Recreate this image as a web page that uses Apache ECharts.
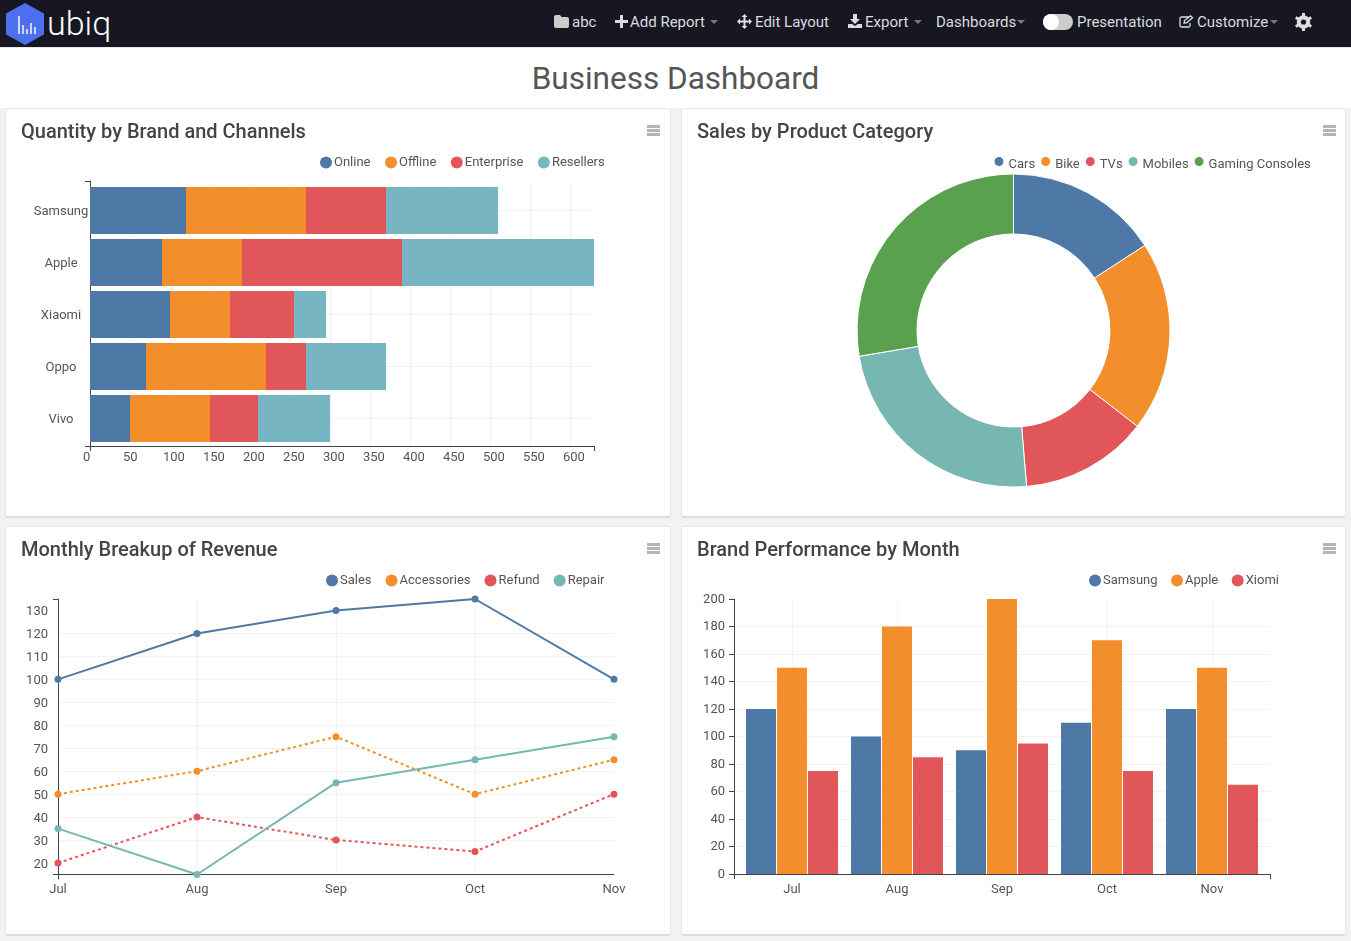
<!DOCTYPE html>
<html>
<head>
  <meta charset="UTF-8">
  <title>Business Dashboard</title>
  <script src="https://cdnjs.cloudflare.com/ajax/libs/echarts/6.0.0/echarts.min.js"></script>
  <style>
    html, body { margin: 0; padding: 0; width: 1351px; height: 941px; overflow: hidden; background: #f1f2f4; font-family: Roboto, sans-serif; }
    #nav { position: absolute; left: 0; top: 0; width: 1351px; height: 47px; background: #161722; color: #dcdcdc; font-size: 15px; }
    #nav span, #nav svg { position: absolute; }
    #nav span { top: 13px; line-height: 18px; white-space: nowrap; }
    #nav .logo { left: 47px; top: 2px; font-size: 34px; line-height: 42px; font-weight: 300; color: #fff; }
    .caret { width: 0; height: 0; top: 20px !important; border-left: 4px solid transparent; border-right: 4px solid transparent; border-top: 4px solid #777; }
    #toggle { left: 1043px; top: 14px !important; width: 30px; height: 16px; background: #ccc; border-radius: 8px; }
    #toggle i { position: absolute; left: 0; top: 0; width: 16px; height: 16px; border-radius: 8px; background: #fff; }
    #band { position: absolute; left: 0; top: 47px; width: 1351px; height: 61px; background: #fff; text-align: center; font-size: 31.5px; line-height: 61px; color: #555; border-top: 1px solid #e8e8e8; box-sizing: border-box; }
    .card { position: absolute; width: 666px; height: 410px; background: #fff; border: 1px solid #e6e6e6; border-bottom: 2px solid #ddd; border-radius: 3px; box-sizing: border-box; }
    .card.right { width: 665px; }
    .chart { position: absolute; left: 0; top: 0; width: 663px; height: 407px; }
    .menu { position: absolute; left: 641px; top: 16px; width: 13px; height: 2.5px; background: #b5b5b5; box-shadow: 0 4px 0 #b5b5b5, 0 8px 0 #b5b5b5; z-index: 2; }
  </style>
</head>
<body>
  <div id="nav">
    <svg style="left:6px;top:3px" width="38" height="42" viewBox="0 0 38 42"><path d="M19 1 L37 11 V31 L19 41 L1 31 V11 Z" fill="#4d6ff0" stroke="#4d6ff0" stroke-width="2" stroke-linejoin="round"/><path d="M13 13v18M17 22v9M21 26v5M25 20v11M29 24v7" stroke="#fff" stroke-width="1.6" opacity=".9"/></svg>
    <span class="logo">ubiq</span>
    <svg style="left:554px;top:15px" width="15" height="13" viewBox="0 0 15 13"><path d="M0 2 Q0 0 2 0 H6 L7.5 2 H13 Q15 2 15 4 V11 Q15 13 13 13 H2 Q0 13 0 11 Z" fill="#ccc"/></svg>
    <span style="left:572px">abc</span>
    <svg style="left:615px;top:15px" width="13" height="13" viewBox="0 0 13 13"><path d="M5 0h3v5h5v3H8v5H5V8H0V5h5z" fill="#ddd"/></svg>
    <span style="left:630px">Add Report</span>
    <span class="caret" style="left:710px"></span>
    <svg style="left:737px;top:14px" width="15" height="15" viewBox="0 0 15 15"><path d="M7.5 0 L10.5 3 H8.5 V6.5 H12 V4.5 L15 7.5 L12 10.5 V8.5 H8.5 V12 H10.5 L7.5 15 L4.5 12 H6.5 V8.5 H3 V10.5 L0 7.5 L3 4.5 V6.5 H6.5 V3 H4.5 Z" fill="#ddd"/></svg>
    <span style="left:755px">Edit Layout</span>
    <svg style="left:848px;top:14px" width="14" height="14" viewBox="0 0 14 14"><path d="M5 0h4v5h3L7 10 2 5h3zM0 10h4l3 2 3-2h4v4H0z" fill="#ddd"/></svg>
    <span style="left:865px">Export</span>
    <span class="caret" style="left:914px"></span>
    <span style="left:936px">Dashboards</span>
    <span class="caret" style="left:1017px"></span>
    <span id="toggle"><i></i></span>
    <span style="left:1077px">Presentation</span>
    <svg style="left:1179px;top:15px" width="15" height="13" viewBox="0 0 15 13"><path d="M10 2H2.5Q1 2 1 3.5v7Q1 12 2.5 12h7Q11 12 11 10.5V8M5 8l.5-2.5L11.5.8l2 2-5.800 5z" fill="none" stroke="#ddd" stroke-width="1.300"/></svg>
    <span style="left:1197px">Customize</span>
    <span class="caret" style="left:1270px"></span>
    <svg style="left:1295px;top:13px" width="17" height="18" viewBox="0 0 17 18"><circle cx="8.500" cy="9" r="5" fill="none" stroke="#ddd" stroke-width="3.600"/><path d="M8.500 0v18M0.700 4.500l15.600 9M0.700 13.500l15.600-9" stroke="#ddd" stroke-width="3"/><circle cx="8.500" cy="9" r="2.600" fill="#161722"/></svg>
  </div>
  <div id="band">Business Dashboard</div>

  <div class="card" style="left:5px;top:108px"><div class="menu"></div><div class="chart" id="brand-channels"></div></div>
  <div class="card right" style="left:681px;top:108px"><div class="menu"></div><div class="chart" id="product-category"></div></div>
  <div class="card" style="left:5px;top:526px"><div class="menu"></div><div class="chart" id="monthly-revenue"></div></div>
  <div class="card right" style="left:681px;top:526px"><div class="menu"></div><div class="chart" id="brand-month"></div></div>

  <script>
  const BLUE = '#4e79a7', ORANGE = '#f28e2b', RED = '#e15759', TEAL = '#76b7b2', CYAN = '#76b5c1', GREEN = '#59a14f';
  const TEXT = '#555', AXIS = '#444', GRID = '#f2f2f2';

  const brands = ['Samsung', 'Apple', 'Xiaomi', 'Oppo', 'Vivo'];
  const online = [120, 90, 100, 70, 50];
  const offline = [150, 100, 75, 150, 100];
  const enterprise = [100, 200, 80, 50, 60];
  const resellers = [140, 240, 40, 100, 90];
  const quantityTicks = [0, 50, 100, 150, 200, 250, 300, 350, 400, 450, 500, 550, 600];

  const productNames = ['Cars', 'Bike', 'TVs', 'Mobiles', 'Gaming Consoles'];
  const productValues = [101, 125, 84, 151, 176];

  const months = ['Jul', 'Aug', 'Sep', 'Oct', 'Nov'];
  const sales = [100, 120, 130, 135, 100];
  const accessories = [50, 60, 75, 50, 65];
  const refund = [20, 40, 30, 25, 50];
  const repair = [35, 15, 55, 65, 75];
  const revenueTicks = [20, 30, 40, 50, 60, 70, 80, 90, 100, 110, 120, 130];

  const samsung = [120, 100, 90, 110, 120];
  const apple = [150, 180, 200, 170, 150];
  const xiomi = [75, 85, 95, 75, 65];

  function title(text) {
    return { text: text, left: 10, top: 9, textStyle: { fontFamily: 'Roboto', fontSize: 20, fontWeight: 500, color: '#444' } };
  }
  function legend(left, top, size, gap, pad) {
    return {
      left: left, top: top, icon: 'circle', itemWidth: size, itemHeight: size, itemGap: gap,
      textStyle: { fontFamily: 'Roboto', fontSize: 13, color: TEXT, padding: pad }
    };
  }
  const label = { fontFamily: 'Roboto', fontSize: 13, color: TEXT };
  const labelY = { ...label, verticalAlign: 'top', padding: [-5, 0, 0, 0] };
  const axisLine = { show: true, onZero: false, lineStyle: { color: AXIS, width: 1 } };
  const tick = (vals) => ({ show: true, length: 5, customValues: vals, lineStyle: { color: AXIS } });
  const split = { show: true, showMinLine: false, showMaxLine: false, lineStyle: { color: GRID, width: 1 } };
  // custom ticks also thin out an axis's split lines, so the grid lines get an axis of their own
  const gridOnly = { axisLine: { show: false }, axisTick: { show: false }, axisLabel: { show: false }, splitLine: split };

  // d3 style frame: domain line with outer ticks, bars live in a slightly smaller inner grid
  echarts.init(document.getElementById('brand-channels')).setOption({
    animation: false,
    title: title('Quantity by Brand and Channels'),
    legend: legend(309, 42, 12, 14.5, [0, 0, 0, -3]),
    grid: [
      { left: 84, top: 72, width: 504, height: 265 },
      { left: 84, top: 75.5, width: 504, height: 260 }
    ],
    xAxis: [
      { type: 'value', min: 0, max: 630, interval: 50, axisLine: axisLine, axisTick: tick([0, 630]),
        axisLabel: { ...label, align: 'left', margin: 5, padding: [0, 0, 0, -7], customValues: quantityTicks },
        splitLine: { show: false } },
      { type: 'value', gridIndex: 1, min: 0, max: 630, show: false },
      { type: 'value', min: 0, max: 630, interval: 50, ...gridOnly }
    ],
    yAxis: [
      { type: 'value', min: 0, max: 1, axisLine: axisLine, axisTick: tick([0, 1]), axisLabel: { show: false }, splitLine: { show: false } },
      { type: 'category', gridIndex: 1, inverse: true, data: brands, axisLine: { show: false }, axisTick: { show: false },
        axisLabel: { ...labelY, align: 'center', margin: 29 }, splitLine: { ...split, showMinLine: true, showMaxLine: true, alignWithLabel: true } }
    ],
    series: [
      { name: 'Online', data: online, color: BLUE },
      { name: 'Offline', data: offline, color: ORANGE },
      { name: 'Enterprise', data: enterprise, color: RED },
      { name: 'Resellers', data: resellers, color: CYAN }
    ].map(s => ({ ...s, type: 'bar', stack: 'total', barWidth: 47, xAxisIndex: 1, yAxisIndex: 1 }))
  });

  const categoryLegend = legend(305.5, 41, 11, 4, 0);
  categoryLegend.formatter = '{t|{name}}';
  categoryLegend.textStyle.rich = { t: { fontFamily: 'Roboto', fontSize: 13, color: TEXT, padding: [6, 0, 0, -1] } };

  echarts.init(document.getElementById('product-category')).setOption({
    animation: false,
    title: title('Sales by Product Category'),
    legend: categoryLegend,
    series: [{
      type: 'pie',
      center: [331.5, 221.5],
      radius: [96.5, 156.5],
      startAngle: 90,
      label: { show: false },
      itemStyle: { borderColor: '#fff', borderWidth: 1 },
      color: [BLUE, ORANGE, RED, TEAL, GREEN],
      data: productNames.map((n, i) => ({ name: n, value: productValues[i] }))
    }]
  });

  echarts.init(document.getElementById('monthly-revenue')).setOption({
    animation: false,
    title: title('Monthly Breakup of Revenue'),
    legend: legend(315, 42, 12, 14, [0, 0, 0, -3]),
    grid: { left: 52, top: 72, width: 556, height: 275.5 },
    xAxis: [
      { type: 'category', boundaryGap: false, data: months, axisLine: axisLine,
        axisTick: { show: true, length: 5, customValues: [0], lineStyle: { color: AXIS } },
        axisLabel: { ...label, margin: 9 }, splitLine: { show: false } },
      { type: 'category', boundaryGap: false, data: months, ...gridOnly }
    ],
    yAxis: [
      { type: 'value', min: 15, max: 135, axisLine: axisLine, axisTick: tick([15, 135]),
        axisLabel: { ...labelY, margin: 10, customValues: revenueTicks }, splitLine: { show: false } },
      { type: 'value', min: 15, max: 135, ...gridOnly, axisTick: { show: false, customValues: revenueTicks } }
    ],
    series: [
      { name: 'Sales', data: sales, color: BLUE, dash: 'solid' },
      { name: 'Accessories', data: accessories, color: ORANGE, dash: [3, 3] },
      { name: 'Refund', data: refund, color: RED, dash: [3, 3] },
      { name: 'Repair', data: repair, color: TEAL, dash: 'solid' }
    ].map(s => ({
      name: s.name, data: s.data, color: s.color, type: 'line', symbol: 'circle', symbolSize: 7, clip: false,
      lineStyle: { width: 2, type: s.dash }
    }))
  });

  echarts.init(document.getElementById('brand-month')).setOption({
    animation: false,
    title: title('Brand Performance by Month'),
    legend: legend(402, 42, 12, 13.5, [0, 0, 0, -3]),
    grid: [
      { left: 52, top: 72, width: 536, height: 275 },
      { left: 57.5, top: 72, width: 525, height: 275 }
    ],
    xAxis: [
      { type: 'value', min: 0, max: 1, axisLine: axisLine, axisTick: tick([0, 1]), axisLabel: { show: false }, splitLine: { show: false } },
      { type: 'category', gridIndex: 1, data: months, axisLine: { show: false }, axisTick: { show: false },
        axisLabel: { ...label, margin: 9 }, splitLine: { ...split, showMinLine: true, showMaxLine: true, alignWithLabel: true } }
    ],
    yAxis: [
      { type: 'value', min: 0, max: 200, interval: 20, axisLine: axisLine,
        axisTick: { show: true, length: 5, lineStyle: { color: AXIS } },
        axisLabel: { ...labelY, padding: [-6, 0, 0, 0], margin: 9 }, splitLine: split },
      { type: 'value', gridIndex: 1, min: 0, max: 200, show: false }
    ],
    series: [
      { name: 'Samsung', data: samsung, color: BLUE },
      { name: 'Apple', data: apple, color: ORANGE },
      { name: 'Xiomi', data: xiomi, color: RED }
    ].map(s => ({ ...s, type: 'bar', barWidth: 30, barGap: '3.3%', xAxisIndex: 1, yAxisIndex: 1 }))
  });
  </script>
</body>
</html>
